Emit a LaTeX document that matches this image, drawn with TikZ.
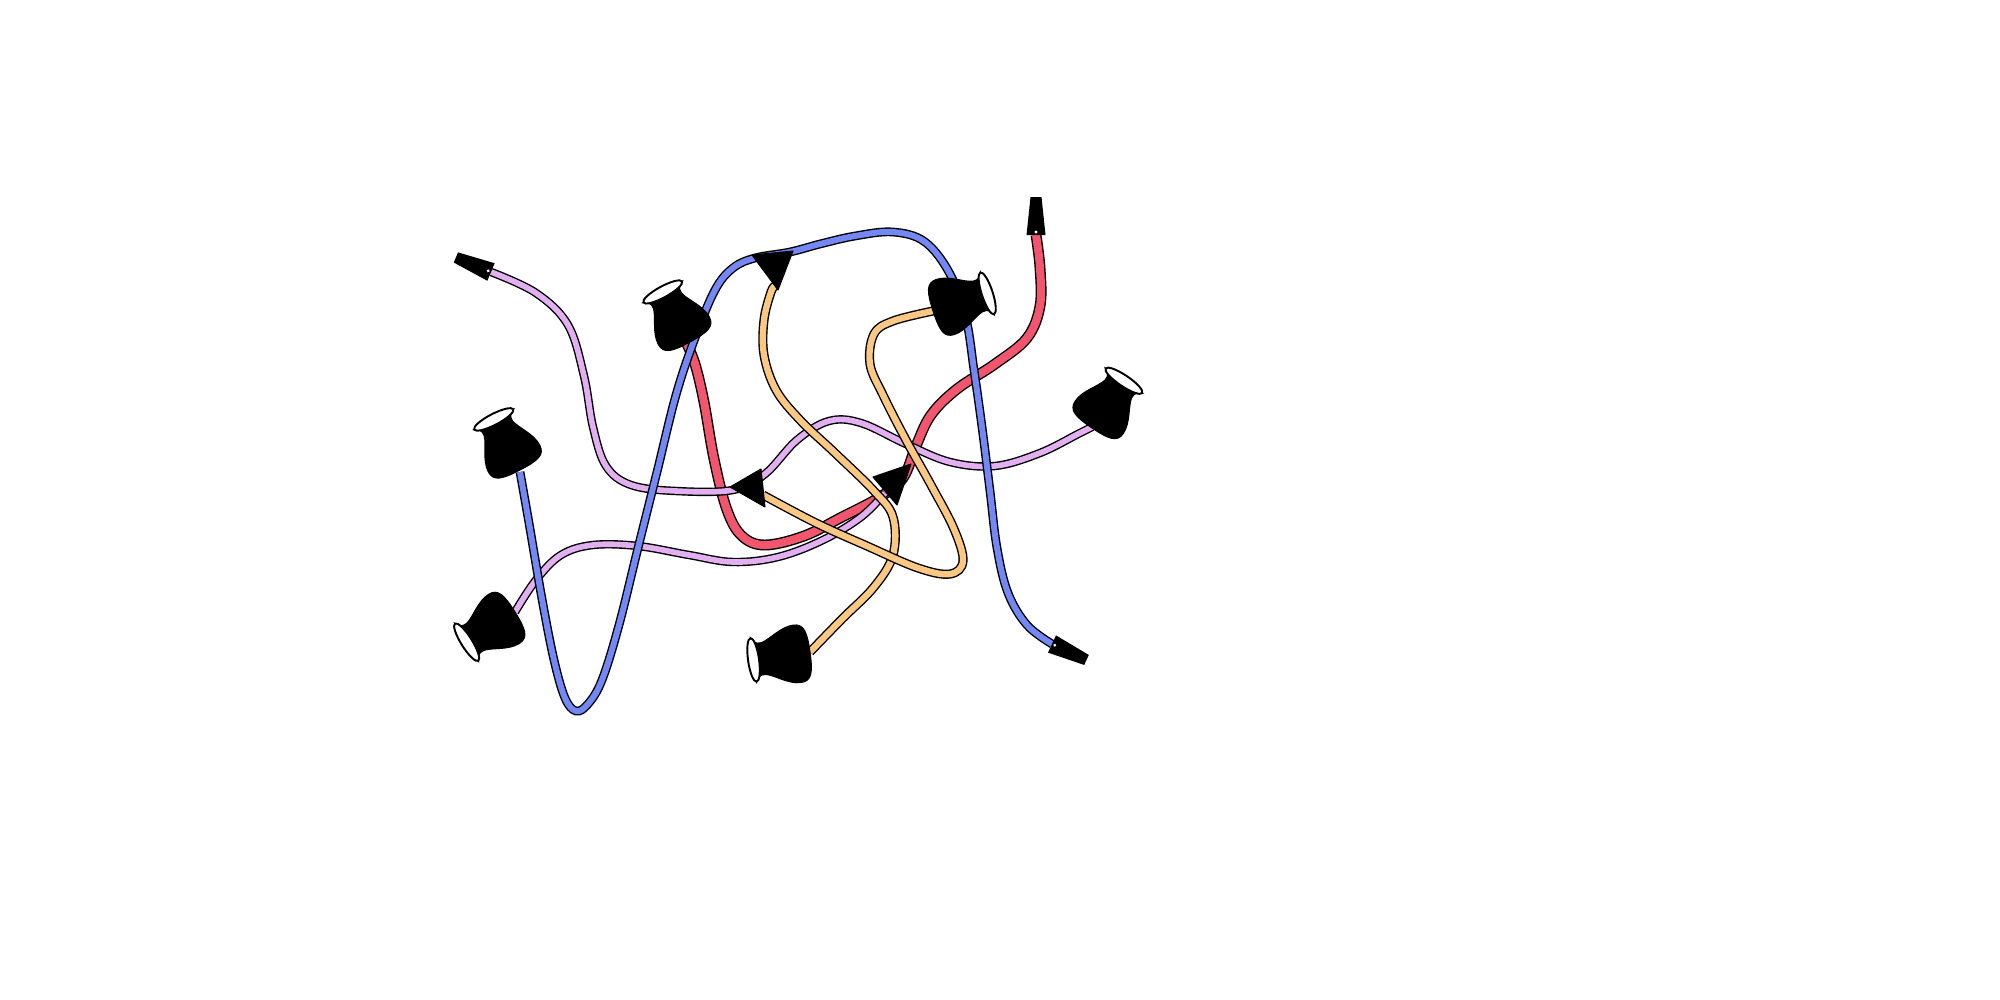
\documentclass[tikz,border=0pt]{standalone}
\definecolor{clilac}{RGB}{226,176,240}
\definecolor{cblue}{RGB}{115,136,245}
\definecolor{cred}{RGB}{242,86,110}
\definecolor{corange}{RGB}{250,200,130}
\tikzset{
 pushpin/.pic={
   \filldraw[black, line width=0.3pt] (0,0) .. controls (0,-20) and (2,-29) .. (13,-29) .. controls (26,-29) and (38,-18) .. (47,-16) .. controls (53,-15) and (56,-19) .. (57,-22) -- (57,22) .. controls (56,19) and (53,15) .. (47,16) .. controls (38,18) and (26,29) .. (13,29) .. controls (2,29) and (0,20) .. (0,0) -- cycle;
   \draw[fill=white, line width=0.55pt] (57,0) ellipse [x radius=5.5, y radius=22];
 },
 plug/.pic={
   \fill[black] (0,-9.5) -- (38,-5.5) -- (38,5.5) -- (0,9.5) -- cycle;
   \fill[white] (3,0) circle [radius=1.6];
 },
 cable/.style 2 args={line width=0.4pt, draw=black, double=#1, double distance=#2},
 tri/.style={fill=black, draw=black, line width=0.3pt, line join=round}
}
\begin{document}
\begin{tikzpicture}[x=0.01cm,y=-0.01cm]
\useasboundingbox (0,0) rectangle (2000,1000);
% red
\draw[cable={cred}{2.3pt}] plot[smooth, tension=0.6] coordinates {(1036,235) (1040,268) (1040,306) (1027,338) (995,364) (957,389) (931,415) (916,446) (903,478) (880,497) (842,517) (804,536) (765,545) (742,536) (727,510) (714,459) (704,402) (695,364) (686,342)};
% lilac B
\draw[cable={clilac}{1.6pt}] plot[smooth, tension=0.6] coordinates {(515,612) (536,580) (561,555) (593,545) (638,546) (689,555) (733,562) (778,557) (823,540) (861,517) (885,493)};
% lilac A
\draw[cable={clilac}{1.6pt}] plot[smooth, tension=0.6] coordinates {(491,272) (536,293) (568,325) (584,376) (593,427) (606,466) (631,485) (676,491) (733,490) (765,474) (797,440) (829,421) (861,423) (906,444) (950,462) (995,466) (1040,453) (1078,434) (1092,427)};
% blue
\draw[cable={cblue}{1.7pt}] plot[smooth, tension=0.6] coordinates {(1052,644) (1027,625) (1008,593) (997,548) (990,491) (982,427) (974,370) (966,319) (950,274) (925,242) (893,232) (855,236) (820,244) (790,252) (755,258) (733,268) (715,290) (695,338) (676,395) (657,472) (638,548) (619,625) (602,680) (588,704) (576,711) (565,698) (554,660) (542,599) (529,523) (520,472)};
% orange A
\draw[cable={corange}{1.8pt}] plot[smooth, tension=0.6] coordinates {(810,652) (842,619) (874,587) (893,555) (893,517) (874,491) (835,453) (800,420) (776,390) (764,355) (764,320) (771,292) (775,286)};
% orange B
\draw[cable={corange}{1.8pt}] plot[smooth, tension=0.6] coordinates {(933,311) (893,321) (874,334) (870,364) (883,395) (906,440) (931,485) (954,529) (963,561) (950,574) (918,568) (867,546) (816,523) (763,495)};
% triangles
\path[tri] (752,255) -- (793,251) -- (778,290) -- cycle;
\path[tri] (730,487) -- (761,469) -- (765,507) -- cycle;
\path[tri] (873,477) -- (911,464) -- (897,505) -- cycle;
% plugs
\pic[rotate=157.5] at (491,272) {plug};
\pic[rotate=90] at (1036,235) {plug};
\pic[rotate=-24.8] at (1052,644) {plug};
% pushpins
\pic[rotate=56] at (1092,428) {pushpin};
\pic[rotate=118.6] at (690,342) {pushpin};
\pic[rotate=117.4] at (520,470) {pushpin};
\pic[rotate=18] at (933,311) {pushpin};
\pic[rotate=188] at (810,652) {pushpin};
\pic[rotate=212] at (515,612) {pushpin};
\end{tikzpicture}
\end{document}
